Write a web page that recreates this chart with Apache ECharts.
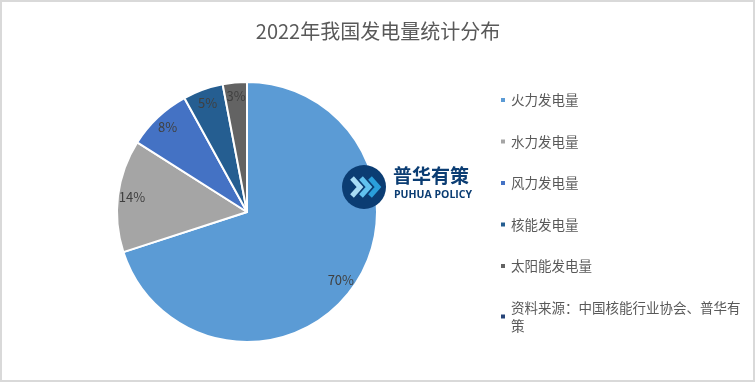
<!DOCTYPE html>
<html><head><meta charset="utf-8">
<script src="https://cdn.jsdelivr.net/npm/echarts@6/dist/echarts.min.js"></script>
<style>html,body{margin:0;padding:0;background:#fff}#c{width:756px;height:383px}</style>
</head><body><div id="c"></div>
<script>
const titleText = '2022年我国发电量统计分布';
const categories = ['火力发电量','水力发电量','风力发电量','核能发电量','太阳能发电量','资料来源：中国核能行业协会、普华有策'];
const values = [70, 14, 8, 5, 3, 0];
const colors = ['#5B9BD5','#A5A5A5','#4472C4','#255E91','#636363','#264478'];

const font = '"Noto Sans CJK SC", "Noto Sans", sans-serif';
const data = categories.map((n,i)=>({name:n, value:values[i], itemStyle:{color:colors[i]}}));
const chart = echarts.init(document.getElementById('c'));
chart.setOption({
  animation:false,
  backgroundColor:'#fff',
  title:{text:titleText, left:'center', top:16, textStyle:{fontFamily:font, fontSize:20, fontWeight:'normal', color:'#595959'}},
  legend:{
    orient:'vertical', left:494, top:86, itemWidth:6, itemHeight:6, icon:'rect', itemGap:23.5,
    data:categories,
    textStyle:{fontFamily:font, fontSize:13.5, color:'#595959', lineHeight:18, width:232, overflow:'break'}
  },
  graphic:[
    {type:'rect', shape:{x:1, y:1, width:753, height:380}, style:{fill:'none', stroke:'#d9d9d9', lineWidth:2}, silent:true, z:100},
    {type:'circle', shape:{cx:364, cy:187, r:22}, style:{fill:'#0b3d73'}, z:50},
    {type:'polyline', shape:{points:[[352,178],[360,187],[352,196]]}, style:{stroke:'#a8dcf5', lineWidth:5, fill:'none'}, z:51},
    {type:'polyline', shape:{points:[[361,178],[369,187],[361,196]]}, style:{stroke:'#62c2ee', lineWidth:5, fill:'none'}, z:51},
    {type:'polyline', shape:{points:[[370,178],[378,187],[370,196]]}, style:{stroke:'#2a9fdb', lineWidth:5, fill:'none'}, z:51},
    {type:'text', left:393, top:166, style:{text:'普华有策', fontFamily:font, fontSize:19, fontWeight:'bold', fill:'#0b3d73'}, z:50},
    {type:'text', left:394, top:190, style:{text:'PUHUA POLICY', fontFamily:'"Open Sans", sans-serif', fontSize:10.5, fontWeight:'bold', fill:'#0b3d73'}, z:50}
  ],
  series:[
    {
      type:'pie', center:[247,212], radius:[0,130], startAngle:90, clockwise:true,
      data:data, label:{show:false}, labelLine:{show:false},
      itemStyle:{borderColor:'#fff', borderWidth:2}, emphasis:{disabled:true}
    },
    {
      type:'pie', center:[247,212], radius:[96,130], startAngle:90, clockwise:true, silent:true,
      legendHoverLink:false,
      data:categories.map((n,i)=>({name:n, value:values[i], itemStyle:{color:'rgba(0,0,0,0)'},
        label:{show:values[i]>0}})),
      label:{position:'inside', formatter:p=>p.value+'%', fontFamily:font, fontSize:13, color:'#404040'},
      labelLine:{show:false}, itemStyle:{borderWidth:0}, emphasis:{disabled:true}
    }
  ]
});
</script></body></html>
